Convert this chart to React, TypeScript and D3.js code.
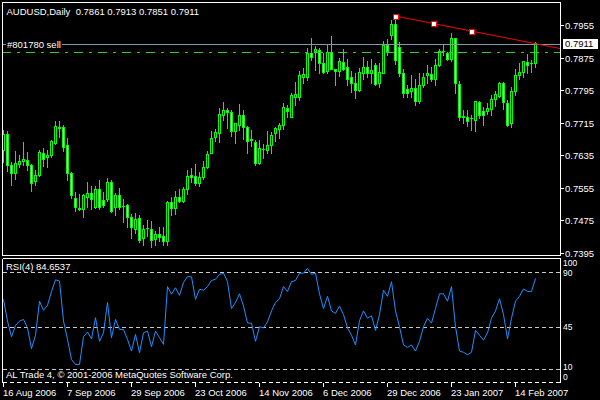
import React from 'react';
import * as d3 from 'd3';

const symbolName = 'AUDUSD,Daily';
const openP = [0.7648,0.7687,0.7611,0.7591,0.7613,0.7620,0.7623,0.7611,0.7571,0.7586,0.7640,0.7630,0.7635,0.7665,0.7702,0.7704,0.7660,0.7591,0.7529,0.7505,0.7502,0.7532,0.7542,0.7507,0.7552,0.7525,0.7527,0.7569,0.7507,0.7537,0.7510,0.7512,0.7483,0.7453,0.7480,0.7431,0.7456,0.7453,0.7429,0.7441,0.7436,0.7424,0.7520,0.7505,0.7532,0.7522,0.7552,0.7586,0.7584,0.7566,0.7581,0.7606,0.7640,0.7679,0.7689,0.7734,0.7746,0.7741,0.7694,0.7709,0.7734,0.7704,0.7675,0.7667,0.7616,0.7650,0.7648,0.7660,0.7689,0.7699,0.7709,0.7751,0.7729,0.7778,0.7778,0.7827,0.7827,0.7886,0.7891,0.7894,0.7862,0.7842,0.7889,0.7847,0.7842,0.7864,0.7852,0.7827,0.7812,0.7795,0.7837,0.7852,0.7837,0.7857,0.7812,0.7837,0.7906,0.7930,0.7958,0.7901,0.7837,0.7798,0.7793,0.7800,0.7768,0.7807,0.7832,0.7834,0.7822,0.7857,0.7891,0.7886,0.7871,0.7923,0.7810,0.7731,0.7729,0.7726,0.7721,0.7766,0.7743,0.7743,0.7748,0.7773,0.7780,0.7812,0.7763,0.7714,0.7793,0.7832,0.7839,0.7864,0.7861,0.7861];
const highP = [0.7697,0.7694,0.7618,0.7645,0.7635,0.7667,0.7643,0.7613,0.7598,0.7648,0.7652,0.7648,0.7672,0.7719,0.7719,0.7709,0.7677,0.7593,0.7544,0.7539,0.7539,0.7569,0.7559,0.7559,0.7574,0.7544,0.7579,0.7574,0.7542,0.7554,0.7527,0.7515,0.7490,0.7493,0.7488,0.7463,0.7475,0.7473,0.7448,0.7458,0.7458,0.7522,0.7532,0.7547,0.7552,0.7556,0.7598,0.7603,0.7613,0.7593,0.7620,0.7645,0.7694,0.7699,0.7751,0.7766,0.7751,0.7746,0.7714,0.7761,0.7746,0.7707,0.7697,0.7672,0.7672,0.7662,0.7694,0.7692,0.7704,0.7714,0.7763,0.7758,0.7788,0.7815,0.7842,0.7849,0.7898,0.7923,0.7903,0.7898,0.7886,0.7906,0.7928,0.7847,0.7874,0.7896,0.7871,0.7842,0.7837,0.7849,0.7876,0.7866,0.7871,0.7862,0.7862,0.7916,0.7921,0.7967,0.7977,0.7913,0.7847,0.7807,0.7832,0.7822,0.7837,0.7837,0.7857,0.7852,0.7871,0.7896,0.7906,0.7889,0.7935,0.7923,0.7817,0.7746,0.7746,0.7734,0.7768,0.7768,0.7753,0.7763,0.7783,0.7793,0.7815,0.7815,0.7771,0.7802,0.7847,0.7862,0.7866,0.7883,0.7869,0.7913];
const lowP = [0.7618,0.7596,0.7561,0.7576,0.7606,0.7611,0.7598,0.7547,0.7561,0.7584,0.7608,0.7606,0.7630,0.7662,0.7680,0.7645,0.7574,0.7529,0.7497,0.7500,0.7483,0.7507,0.7502,0.7505,0.7502,0.7507,0.7522,0.7495,0.7488,0.7502,0.7470,0.7458,0.7431,0.7443,0.7421,0.7414,0.7436,0.7409,0.7414,0.7424,0.7414,0.7414,0.7488,0.7490,0.7520,0.7520,0.7539,0.7569,0.7561,0.7559,0.7576,0.7603,0.7640,0.7670,0.7667,0.7721,0.7702,0.7682,0.7665,0.7697,0.7675,0.7640,0.7657,0.7611,0.7613,0.7628,0.7640,0.7640,0.7670,0.7677,0.7699,0.7729,0.7729,0.7758,0.7771,0.7812,0.7820,0.7869,0.7844,0.7837,0.7837,0.7837,0.7847,0.7807,0.7830,0.7844,0.7807,0.7790,0.7775,0.7793,0.7822,0.7827,0.7812,0.7807,0.7802,0.7837,0.7881,0.7921,0.7859,0.7830,0.7778,0.7778,0.7778,0.7758,0.7763,0.7802,0.7812,0.7817,0.7807,0.7854,0.7881,0.7869,0.7866,0.7788,0.7721,0.7714,0.7707,0.7697,0.7694,0.7726,0.7709,0.7736,0.7734,0.7756,0.7778,0.7748,0.7707,0.7704,0.7783,0.7822,0.7827,0.7837,0.7839,0.7851];
const closeP = [0.7687,0.7611,0.7591,0.7616,0.7620,0.7625,0.7611,0.7566,0.7586,0.7643,0.7625,0.7635,0.7670,0.7707,0.7704,0.7655,0.7591,0.7537,0.7507,0.7502,0.7537,0.7542,0.7527,0.7552,0.7507,0.7512,0.7569,0.7497,0.7537,0.7507,0.7510,0.7483,0.7458,0.7478,0.7426,0.7453,0.7456,0.7426,0.7441,0.7434,0.7424,0.7520,0.7505,0.7532,0.7522,0.7552,0.7584,0.7581,0.7566,0.7581,0.7606,0.7638,0.7677,0.7692,0.7736,0.7746,0.7741,0.7694,0.7714,0.7734,0.7704,0.7670,0.7672,0.7616,0.7652,0.7650,0.7660,0.7684,0.7702,0.7709,0.7753,0.7743,0.7783,0.7785,0.7832,0.7834,0.7886,0.7876,0.7896,0.7862,0.7839,0.7889,0.7847,0.7842,0.7866,0.7847,0.7822,0.7812,0.7795,0.7839,0.7852,0.7837,0.7844,0.7810,0.7839,0.7906,0.7891,0.7958,0.7869,0.7837,0.7788,0.7788,0.7800,0.7768,0.7807,0.7827,0.7837,0.7822,0.7857,0.7891,0.7891,0.7871,0.7923,0.7812,0.7729,0.7729,0.7719,0.7726,0.7768,0.7734,0.7734,0.7751,0.7773,0.7785,0.7812,0.7766,0.7709,0.7793,0.7832,0.7839,0.7866,0.7857,0.7861,0.7911];
const rsiValues = [67.5,49.7,36.8,46,49.7,51,44,27,38,66,58.5,62.6,74,83.5,82.6,49.7,34.6,18,14,14,36.8,40.6,35,52.4,33,40,65,36,51,42.8,42.8,34.6,25,38.7,23.6,40,41.4,28.6,41.4,36,30.5,78,71.7,77,70.8,81.3,86.2,86,67.5,75.8,
75,78,83,84,88,89,82,60,65,72,
62,48,48,33,45,44,49,58,65,68,
78,74,82,83,89,89,93,88,89,72,
60,70,58,56,62,55,44,38,30,50,
58,52,54,42,55,75,70,82,58,45,
30,28,30,25,33,45,52,48,60,72,
72,66,78,45,25,24,22,24,42,38,
34,40,52,58,68,55,35,52,66,70,
76,74,74,84.6537];

const priceTicks = [0.7955, 0.7875, 0.7795, 0.7715, 0.7635, 0.7555, 0.7475, 0.7395];
const dateTickIndex = [0, 16, 32, 48, 64, 80, 96, 112, 128];
const dateTickLabels = ['16 Aug 2006', '7 Sep 2006', '29 Sep 2006', '23 Oct 2006', '14 Nov 2006', '6 Dec 2006', '29 Dec 2006', '23 Jan 2007', '14 Feb 2007'];
const rsiLevels = [90, 45, 10];
const rsiAxisValues = [100, 90, 45, 10, 0];
const trendIndex = [98, 107.6, 117.1];
const trendPrice = [0.7977, 0.7959, 0.7940];
const orderPrice = 0.7908;
const orderLabel = '#801780 sell';
const tpPrice = 0.7889;
const rsiPeriod = 4;
const copyright = 'AL Trade 4, © 2001-2006 MetaQuotes Software Corp.';

const FONT = 'Liberation Sans, Arial, sans-serif';

export default function App() {
  const n = closeP.length;
  const left = 2, right = 560, mainTop = 2, mainBottom = 255, rsiTop = 258, rsiBottom = 382;
  const x = d3.scaleLinear().domain([0, n - 1]).range([3, 3 + 4 * (n - 1)]);
  const y = d3.scaleLinear().domain([0.7395, 0.7955]).range([252.6, 25]);
  const yr = d3.scaleLinear().domain([0, 100]).range([381.5, 259.8]);
  const fmt = d3.format('.4f');

  const rsiLine = d3.line<number>().x((_, i) => x(i) + 0.5).y(d => yr(d));

  const slope = (trendPrice[2] - trendPrice[0]) / (trendIndex[2] - trendIndex[0]);
  const endIdx = x.invert(right);
  const endPrice = trendPrice[0] + slope * (endIdx - trendIndex[0]);

  const last = n - 1;
  const title = `${symbolName}  ${fmt(openP[last])} ${fmt(highP[last])} ${fmt(lowP[last])} ${fmt(closeP[last])}`;

  const txt = { fontFamily: FONT, fontSize: 9.5, fill: '#fff' } as const;
  const rsiLabelBaseline: Record<number, number> = { 100: 266, 90: 276, 45: 330, 10: 370, 0: 380 };

  return (
    <>
      <style>{`body{margin:0;background:#000}`}</style>
      <svg width={600} height={400} style={{ display: 'block', background: '#000' }}>
        <rect x={0} y={0} width={600} height={400} fill="#000" />
        <defs>
          <clipPath id="mainClip">
            <rect x={left} y={mainTop} width={right - left} height={mainBottom - mainTop} />
          </clipPath>
          <clipPath id="rsiClip">
            <rect x={left} y={rsiTop} width={right - left} height={rsiBottom - rsiTop} />
          </clipPath>
        </defs>

        {/* candles */}
        <g clipPath="url(#mainClip)" shapeRendering="crispEdges">
          {closeP.map((c, i) => {
            const o = openP[i];
            const xc = Math.round(x(i));
            const top = Math.round(y(Math.max(o, c)));
            const bot = Math.round(y(Math.min(o, c)));
            const hi = Math.round(y(highP[i]));
            const lo = Math.round(y(lowP[i]));
            const bear = c < o;
            return (
              <g key={i}>
                <rect x={xc} y={hi} width={1} height={lo - hi + 1} fill="#00ff00" />
                <rect x={xc - 1} y={top} width={3} height={bot - top + 1} fill="#00ff00" />
                {bot - top - 1 > 0 && (
                  <rect x={xc} y={top + 1} width={1} height={bot - top - 1} fill={bear ? '#ffffff' : '#000000'} />
                )}
              </g>
            );
          })}
        </g>

        {/* objects */}
        <g clipPath="url(#mainClip)">
          <line x1={left} x2={right} y1={Math.round(y(orderPrice)) + 0.5} y2={Math.round(y(orderPrice)) + 0.5} stroke="#8796ab" strokeWidth={1} shapeRendering="crispEdges" />
          <line x1={left} x2={right} y1={Math.round(y(tpPrice)) + 0.5} y2={Math.round(y(tpPrice)) + 0.5} stroke="#32cd32" strokeWidth={1} strokeDasharray="9,6,3,6" shapeRendering="crispEdges" />
          <line x1={x(trendIndex[0]) + 0.5} y1={y(trendPrice[0])} x2={right} y2={y(endPrice)} stroke="#ff0000" strokeWidth={1} />
          {trendIndex.map((ti, k) => (
            <rect key={k} x={Math.round(x(ti)) - 2} y={Math.round(y(trendPrice[k])) - 2} width={5} height={5} fill="#fff" stroke="#ff0000" strokeWidth={1} shapeRendering="crispEdges" />
          ))}
          <rect x={6} y={Math.round(y(orderPrice)) - 4} width={56} height={10} fill="#000" />
          <text x={7} y={Math.round(y(orderPrice)) + 4} {...txt}>{orderLabel}</text>
        </g>

        <text x={6.5} y={14.5} {...txt} style={{ whiteSpace: 'pre' }}>{title}</text>

        {/* frames */}
        <g shapeRendering="crispEdges" fill="none" stroke="#fff" strokeWidth={1}>
          <rect x={left + 0.5} y={mainTop + 0.5} width={right - left} height={mainBottom - mainTop} />
          <line x1={left + 0.5} x2={left + 0.5} y1={rsiTop + 0.5} y2={rsiBottom + 0.5} />
          <line x1={right + 0.5} x2={right + 0.5} y1={rsiTop + 0.5} y2={rsiBottom + 0.5} />
          <line x1={left + 0.5} x2={right + 0.5} y1={rsiTop + 0.5} y2={rsiTop + 0.5} />
          <line x1={left + 0.5} x2={right + 0.5} y1={rsiBottom + 0.5} y2={rsiBottom + 0.5} strokeDasharray="4,3" />
        </g>

        {/* price axis */}
        {priceTicks.map((p, k) => {
          const yy = Math.round(y(p));
          return (
            <g key={k}>
              <line x1={561} x2={564} y1={yy + 0.5} y2={yy + 0.5} stroke="#fff" shapeRendering="crispEdges" />
              <text x={565} y={yy + 3.5} {...txt}>{fmt(p)}</text>
            </g>
          );
        })}
        <rect x={563} y={Math.round(y(closeP[last])) - 4} width={35} height={10} fill="#fff" />
        <text x={565} y={Math.round(y(closeP[last])) + 4} {...txt} fill="#000">{fmt(closeP[last])}</text>

        {/* RSI */}
        <g shapeRendering="crispEdges">
          {rsiLevels.map((lv, k) => (
            <line key={k} x1={left + 1} x2={right} y1={Math.round(yr(lv)) + 0.5} y2={Math.round(yr(lv)) + 0.5} stroke="#c8c8c8" strokeDasharray="4,3" />
          ))}
        </g>
        <path d={rsiLine(rsiValues) ?? ''} fill="none" stroke="#1e90ff" strokeWidth={1} clipPath="url(#rsiClip)" />
        <text x={6} y={270} {...txt}>{`RSI(${rsiPeriod}) ${rsiValues[last].toFixed(4)}`}</text>
        <text x={6} y={378} {...txt}>{copyright}</text>
        {rsiAxisValues.map((v, k) => (
          <text key={k} x={563} y={rsiLabelBaseline[v]} fontFamily={FONT} fontSize={8.5} fill="#fff">{v}</text>
        ))}

        {/* time axis */}
        {dateTickIndex.map((ti, k) => {
          const xx = Math.round(x(ti));
          return (
            <g key={k}>
              <line x1={xx + 0.5} x2={xx + 0.5} y1={383} y2={387} stroke="#fff" shapeRendering="crispEdges" />
              <text x={xx} y={395.5} {...txt}>{dateTickLabels[k]}</text>
            </g>
          );
        })}
      </svg>
    </>
  );
}
